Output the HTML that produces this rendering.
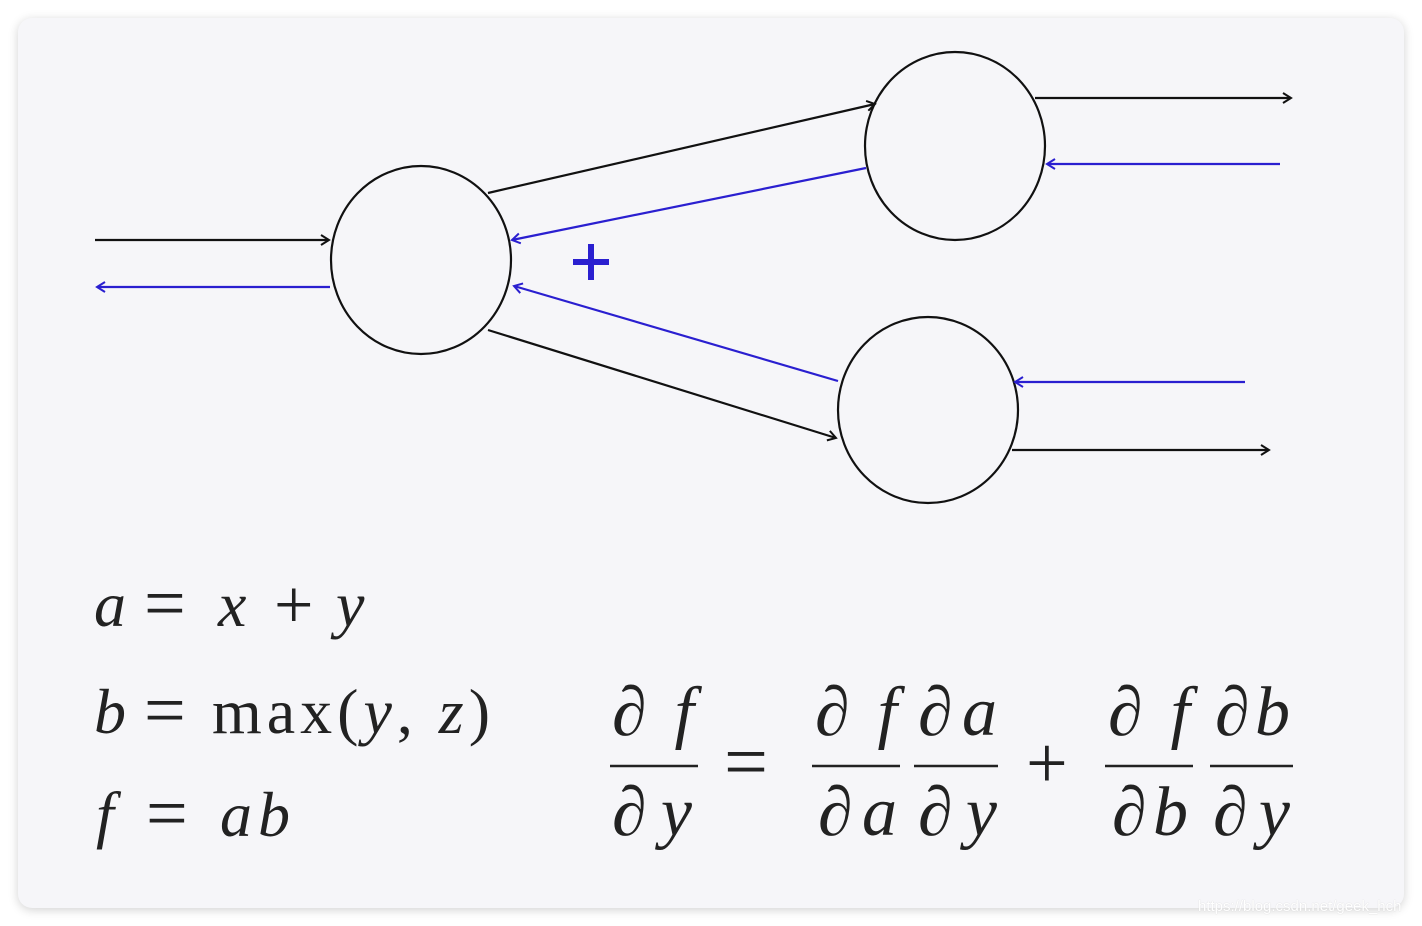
<!DOCTYPE html>
<html><head><meta charset="utf-8"><style>
html,body{margin:0;padding:0;background:#fff;width:1422px;height:926px;overflow:hidden}
.panel{position:absolute;left:18px;top:18px;width:1386px;height:890px;background:#f6f6f9;border-radius:14px;box-shadow:0 2px 10px rgba(0,0,0,0.18)}
svg{position:absolute;left:0;top:0}
text{font-family:"Liberation Serif",serif;fill:#222}
.wm{position:absolute;left:1198px;top:898px;font-family:"Liberation Sans",sans-serif;font-size:15px;color:#fff;text-shadow:0 0 1px #ccc}
</style></head><body>
<div class="panel"></div>
<svg width="1422" height="926" viewBox="0 0 1422 926">
<defs>
<marker id="ak" markerWidth="12" markerHeight="12" refX="10" refY="6" orient="auto" markerUnits="userSpaceOnUse"><path d="M2,1 L10,6 L2,11" fill="none" stroke="#111" stroke-width="2"/></marker>
<marker id="ab" markerWidth="12" markerHeight="12" refX="10" refY="6" orient="auto" markerUnits="userSpaceOnUse"><path d="M2,1 L10,6 L2,11" fill="none" stroke="#2a1fd0" stroke-width="2"/></marker>
</defs>
<g fill="none" stroke-width="2.2">
<ellipse cx="421" cy="260" rx="90" ry="94" stroke="#111"/>
<ellipse cx="955" cy="146" rx="90" ry="94" stroke="#111"/>
<ellipse cx="928" cy="410" rx="90" ry="93" stroke="#111"/>
<line x1="95" y1="240" x2="329" y2="240" stroke="#111" marker-end="url(#ak)"/>
<line x1="330" y1="287" x2="97" y2="287" stroke="#2a1fd0" marker-end="url(#ab)"/>
<line x1="488" y1="193" x2="875" y2="104" stroke="#111" marker-end="url(#ak)"/>
<line x1="866" y1="168" x2="512" y2="240" stroke="#2a1fd0" marker-end="url(#ab)"/>
<line x1="488" y1="330" x2="836" y2="438" stroke="#111" marker-end="url(#ak)"/>
<line x1="838" y1="381" x2="514" y2="286" stroke="#2a1fd0" marker-end="url(#ab)"/>
<line x1="1035" y1="98" x2="1291" y2="98" stroke="#111" marker-end="url(#ak)"/>
<line x1="1280" y1="164" x2="1047" y2="164" stroke="#2a1fd0" marker-end="url(#ab)"/>
<line x1="1245" y1="382" x2="1015" y2="382" stroke="#2a1fd0" marker-end="url(#ab)"/>
<line x1="1012" y1="450" x2="1269" y2="450" stroke="#111" marker-end="url(#ak)"/>
</g>
<path d="M591,244 V280 M573,262 H609" stroke="#2a1fd0" stroke-width="6"/>
<g font-size="64">
<text x="94" y="626" font-style="italic">a</text>
<text x="144" y="628" font-size="74">=</text>
<text x="218" y="626" font-style="italic">x</text>
<text x="274" y="628" font-size="70">+</text>
<text x="336" y="626" font-style="italic">y</text>
<text x="94" y="733" font-style="italic">b</text>
<text x="144" y="735" font-size="74">=</text>
<text x="212" y="733" textLength="278" lengthAdjust="spacing">max(<tspan font-style="italic">y</tspan>, <tspan font-style="italic">z</tspan>)</text>
<text x="96" y="836" font-style="italic">f</text>
<text x="146" y="838" font-size="74">=</text>
<text x="220" y="836" font-style="italic" textLength="70" lengthAdjust="spacing">ab</text>
<g font-style="italic" font-size="70">
<text x="612" y="735" textLength="82" lengthAdjust="spacing">∂f</text><text x="612" y="835" textLength="80" lengthAdjust="spacing">∂y</text>
<text x="815" y="735" textLength="82" lengthAdjust="spacing">∂f</text><text x="818" y="835" textLength="79" lengthAdjust="spacing">∂a</text>
<text x="918" y="735" textLength="79" lengthAdjust="spacing">∂a</text><text x="918" y="835" textLength="79" lengthAdjust="spacing">∂y</text>
<text x="1108" y="735" textLength="82" lengthAdjust="spacing">∂f</text><text x="1112" y="835" textLength="76" lengthAdjust="spacing">∂b</text>
<text x="1215" y="735" textLength="75" lengthAdjust="spacing">∂b</text><text x="1213" y="835" textLength="77" lengthAdjust="spacing">∂y</text>
</g>
</g>
<text x="724" y="788" font-size="78">=</text>
<text x="1026" y="788" font-size="74">+</text>
<g stroke="#222" stroke-width="2.5">
<line x1="610" y1="766" x2="698" y2="766"/>
<line x1="812" y1="766" x2="900" y2="766"/>
<line x1="914" y1="766" x2="998" y2="766"/>
<line x1="1105" y1="766" x2="1193" y2="766"/>
<line x1="1210" y1="766" x2="1293" y2="766"/>
</g>
</svg>
<div class="wm">https://blog.csdn.net/geek_hch</div>
</body></html>
